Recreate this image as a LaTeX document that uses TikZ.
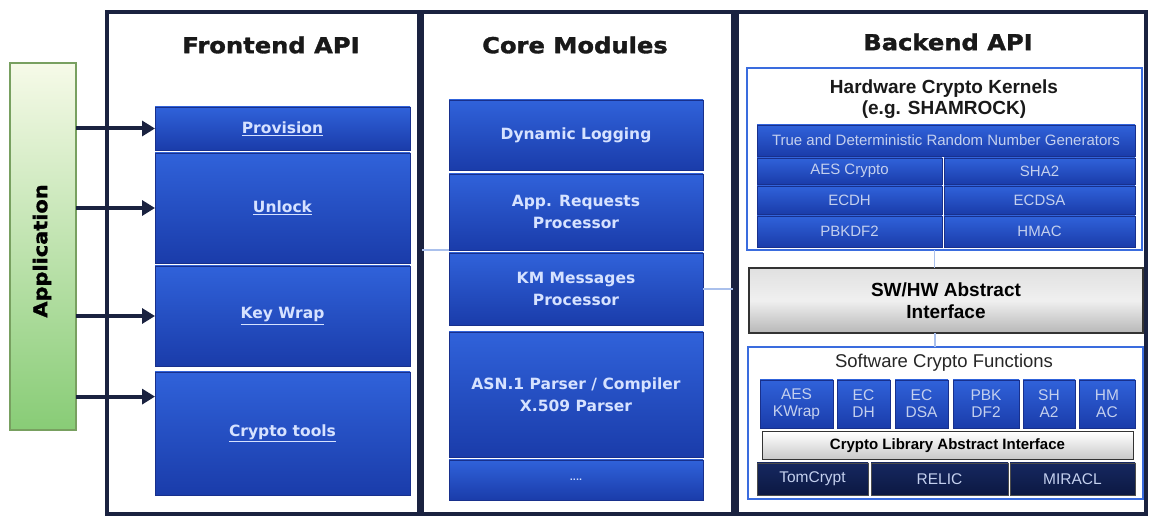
\documentclass[tikz,border=0pt]{standalone}
\usepackage{fontspec}
\newfontfamily\dvs{DejaVu Sans}
\newfontfamily\heavy{DejaVu Sans}[BoldFeatures={FakeStretch=1.1,FakeBold=1.5}]
\newfontfamily\lib{Liberation Sans}
\usetikzlibrary{arrows.meta,calc}
\definecolor{navy}{RGB}{26,34,64}
\definecolor{bluetop}{RGB}{48,98,218}
\definecolor{bluebot}{RGB}{26,60,170}
\definecolor{blueedge}{RGB}{24,48,140}
\definecolor{paletext}{RGB}{214,226,255}
\definecolor{hwtext}{RGB}{196,208,238}
\definecolor{frameblue}{RGB}{58,108,222}
\definecolor{faint}{RGB}{170,192,236}
\definecolor{apptop}{RGB}{246,250,232}
\definecolor{appbot}{RGB}{136,204,118}
\definecolor{appedge}{RGB}{120,160,96}
\definecolor{libtop}{RGB}{22,40,96}
\definecolor{libbot}{RGB}{12,24,66}
\newcommand\bx[7]{\node[#6, minimum width={(#4-#2)*1pt}, minimum height={(#5-#3)*1pt}] (#1) at ({(#2+#4)/2},{(#3+#5)/2}) {#7};}
\tikzset{
  panel/.style={draw=navy, line width=4pt, fill=white, inner sep=0pt, outer sep=0pt},
  bluebox/.style={draw=blueedge, line width=0.8pt, top color=bluetop, bottom color=bluebot, inner sep=0pt, outer sep=0pt, align=center},
  fetext/.style={bluebox, text=paletext, font=\dvs\bfseries\fontsize{15.5}{18}\selectfont},
  cotext/.style={bluebox, text=paletext, font=\dvs\bfseries\fontsize{15.5}{22}\selectfont},
  hwbox/.style={bluebox, text=hwtext, font=\lib\fontsize{15}{17}\selectfont},
  swbox/.style={bluebox, text=hwtext, font=\lib\fontsize{15.5}{17}\selectfont},
  outerblue/.style={draw=frameblue, line width=2.5pt, fill=white, inner sep=0pt, outer sep=0pt},
  graybox/.style={draw=black!80, line width=1.5pt, top color=black!12, bottom color=black!28, middle color=black!6, inner sep=0pt, outer sep=0pt, align=center, font=\lib\bfseries\fontsize{19}{22}\selectfont},
  clabox/.style={draw=black!80, line width=1pt, top color=white, bottom color=black!22, inner sep=0pt, outer sep=0pt, font=\lib\bfseries\fontsize{15}{17}\selectfont},
  libbox/.style={draw=black!70, line width=0.8pt, top color=libtop, bottom color=libbot, inner sep=0pt, outer sep=0pt, text=hwtext, font=\lib\fontsize{15.5}{17}\selectfont},
  appbox/.style={draw=appedge, line width=1.5pt, top color=apptop, bottom color=appbot, inner sep=0pt, outer sep=0pt},
  title/.style={font=\heavy\bfseries\fontsize{22}{26}\selectfont, text=black!90},
  subtitle/.style={font=\lib\bfseries\fontsize{19}{21}\selectfont, text=black!90, align=center},
  feedarrow/.style={draw=navy, line width=4pt, -{Triangle[length=13pt,width=15pt]}},
  faintline/.style={draw=faint, line width=1.5pt}
}
\begin{document}
\begin{tikzpicture}[x=1pt,y=-1pt]
\useasboundingbox (0,0) rectangle (1149,518);
% panels
\bx{frontp}{107}{12}{419}{514}{panel}{}
\bx{corep}{422}{12}{733}{514}{panel}{}
\bx{backp}{737}{12}{1146}{514}{panel}{}
\node[title] (fetitle) at (271,45) {Frontend API};
\node[title] (cotitle) at (575,45) {Core Modules};
\node[title] (betitle) at (948,42) {Backend API};
% application
\bx{app}{10}{63}{76}{430}{appbox}{}
\node[rotate=90, font=\heavy\bfseries\fontsize{19}{22}\selectfont] (apptext) at (42,251) {Application};
% frontend boxes
\bx{prov}{155}{107}{410}{150}{fetext}{\underline{Provision}}
\bx{unlock}{155}{153}{410}{263}{fetext}{\underline{Unlock}}
\bx{keywrap}{155}{266}{410}{366}{fetext}{\underline{Key Wrap}}
\bx{crypto}{155}{372}{410}{495}{fetext}{\underline{Crypto tools}}
% arrows
\draw[feedarrow] (app.east |- prov.west) -- (prov.west);
\draw[feedarrow] (app.east |- unlock.west) -- (unlock.west);
\draw[feedarrow] (app.east |- keywrap.west) -- (keywrap.west);
\coordinate (cryin) at ($(crypto.north west)!0.2!(crypto.south west)$);
\draw[feedarrow] (app.east |- cryin) -- (cryin);
% core boxes
\bx{dl}{449}{100}{703}{170}{cotext}{Dynamic Logging}
\bx{arp}{449}{174}{703}{250}{cotext}{App. Requests\\Processor}
\bx{kmm}{449}{253}{703}{325}{cotext}{KM Messages\\Processor}
\bx{asn}{449}{332}{703}{457}{cotext}{ASN.1 Parser / Compiler\\X.509 Parser}
\bx{dots}{449}{460}{703}{500}{cotext}{\fontsize{8}{10}\selectfont ....}
\draw[faintline] (arp.south west) -- (arp.south west -| corep.west);
\draw[faintline] (kmm.east) -- (kmm.east -| corep.east);
% hardware kernels
\bx{hwk}{747}{68}{1142}{250}{outerblue}{}
\node[subtitle] (hwktitle) at (944,99) {Hardware Crypto Kernels\\(e.g. SHAMROCK)};
\bx{trng}{757}{125}{1135}{156}{hwbox}{True and Deterministic Random Number Generators}
\bx{aes}{757}{158}{942}{184}{hwbox}{AES Crypto}
\bx{sha}{944}{158}{1135}{184}{hwbox}{SHA2}
\bx{ecdh}{757}{186}{942}{214}{hwbox}{ECDH}
\bx{ecdsa}{944}{186}{1135}{214}{hwbox}{ECDSA}
\bx{pbk}{757}{216}{942}{247}{hwbox}{PBKDF2}
\bx{hmac}{944}{216}{1135}{247}{hwbox}{HMAC}
% sw/hw
\bx{swhw}{749}{268}{1143}{333}{graybox}{SW/HW Abstract\\Interface}
% software crypto
\bx{swf}{748}{347}{1143}{499}{outerblue}{}
\node[font=\lib\fontsize{18.5}{20}\selectfont, text=black!85] (swftitle) at (944,363) {Software Crypto Functions};
\draw[faintline] ([xshift=-10pt]hwk.south) -- ([xshift=-10pt]hwk.south |- swhw.north);
\draw[faintline] ([xshift=-11pt]swhw.south) -- ([xshift=-11pt]swhw.south |- swf.north);
\bx{sa}{760}{380}{833}{428}{swbox}{AES\\KWrap}
\bx{sb}{837}{380}{890}{428}{swbox}{EC\\DH}
\bx{sc}{895}{380}{948}{428}{swbox}{EC\\DSA}
\bx{sd}{953}{380}{1019}{428}{swbox}{PBK\\DF2}
\bx{se}{1023}{380}{1075}{428}{swbox}{SH\\A2}
\bx{sf}{1079}{380}{1135}{428}{swbox}{HM\\AC}
\bx{cla}{762}{432}{1133}{460}{clabox}{Crypto Library Abstract Interface}
\bx{tom}{757}{463}{868}{495}{libbox}{TomCrypt}
\bx{relic}{871}{463}{1008}{495}{libbox}{RELIC}
\bx{miracl}{1010}{463}{1135}{495}{libbox}{MIRACL}
\end{tikzpicture}
\end{document}
